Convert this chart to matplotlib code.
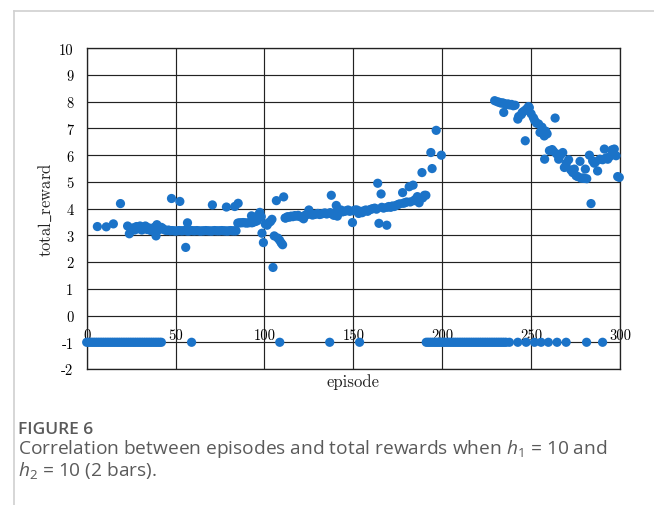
import matplotlib
matplotlib.use("Agg")
import matplotlib.pyplot as plt
from matplotlib.lines import Line2D

plt.rcParams['mathtext.fontset'] = 'custom'
plt.rcParams['mathtext.rm'] = 'Open Sans'
plt.rcParams['mathtext.it'] = 'Open Sans:italic'

# ---------------- data ----------------
pos_episode = [6, 11, 15, 19, 23, 24, 25, 26, 27, 28, 29, 30, 31, 32, 33, 34, 35, 36, 37, 38,
               39, 39.5, 40, 41, 42, 43, 44, 45, 46,
               47, 48, 49, 50, 51, 52, 53, 54, 55, 56, 57, 58, 59, 60, 61, 62, 63, 64, 65, 66,
               67, 68, 69, 70, 71, 72, 73, 74, 75, 76, 77, 78, 79, 80, 81, 82, 83, 84,
               47.7, 52.4, 55.7, 56.7, 70.7, 78.6, 83.3, 85.2,
               85, 86, 87, 88, 89, 90, 91, 92, 93, 94, 95, 96,
               92.7, 93.7, 95, 96.4, 97.4, 98.2,
               98.6, 99.4, 100.5, 101.5, 102.5, 103.4, 104.2, 104.8, 105.5, 106.7, 107.5, 108.5,
               109.4, 110.2, 110.8, 111.6,
               112, 113, 114, 115, 116, 117, 118, 119, 120, 121, 122, 123, 124, 125, 126, 127,
               128, 129, 130, 131, 132, 133, 134, 135, 136, 137, 137.6, 138, 139, 140, 140.4,
               141, 142, 143, 144, 145, 146, 147, 148, 149.5, 150, 151, 152, 153, 154, 155, 156,
               157, 158, 159, 160, 161, 162, 163, 163.7, 164.4, 165.6, 166, 167, 168.8, 169,
               170, 171, 172, 173, 174, 175, 176, 177.7, 178, 179, 180, 181.4, 182, 183.6, 184,
               185, 186, 187, 188.6, 189, 190, 190.8, 193.6, 194.3, 196.6, 199.5,
               229.5, 231, 232, 233, 234, 234.6, 235, 236, 237, 238, 239, 240, 241, 242.5, 243,
               244.5, 245, 246, 246.7, 247.3, 248.5, 249, 250, 251.3, 252, 253, 254.2, 255,
               256.1, 256.8, 257.4, 257.6, 258.2, 259, 260.3, 261.8, 262.5, 263.5, 264.3, 265.5,
               266.5, 267.8, 268.7, 269.8, 271.1, 272.3, 273.4, 274.3, 275.3, 276.2, 277.5,
               278.1, 279.2, 279.9, 280.5, 281.3, 282.8, 283.7, 284.6, 285.5, 286.3, 287.4,
               288.7, 290.2, 291.2, 292.2, 293.1, 294.2, 295.5, 295.8, 296.8, 297.8, 298.7,
               299.6]
pos_reward = [3.33, 3.32, 3.43, 4.19, 3.35, 3.06, 3.22, 3.28, 3.20, 3.33, 3.25, 3.35, 3.20, 3.30,
              3.35, 3.22, 3.28, 3.18, 3.25, 3.30, 2.98, 3.40, 3.30, 3.22, 3.30, 3.25, 3.20, 3.18,
              3.20,
              3.17, 3.18, 3.17, 3.16, 3.17, 3.18, 3.17, 3.17, 3.18, 3.17, 3.16, 3.17, 3.18, 3.17,
              3.17, 3.18, 3.17, 3.16, 3.17, 3.17, 3.18, 3.17, 3.17, 3.16, 3.17, 3.18, 3.17, 3.17,
              3.17, 3.18, 3.17, 3.17, 3.16, 3.17, 3.18, 3.17, 3.17, 3.17,
              4.38, 4.27, 2.55, 3.47, 4.14, 4.06, 4.08, 4.20,
              3.46, 3.47, 3.47, 3.48, 3.47, 3.46, 3.47, 3.48, 3.47, 3.50, 3.52, 3.55,
              3.73, 3.62, 3.58, 3.75, 3.86, 3.70,
              3.08, 2.73, 3.42, 3.38, 3.48, 3.52, 3.60, 1.80, 2.98, 4.30, 2.90, 2.82,
              2.72, 2.65, 4.44, 3.65,
              3.65, 3.70, 3.68, 3.72, 3.70, 3.74, 3.72, 3.75, 3.70, 3.68, 3.62, 3.76, 3.78, 3.95,
              3.80, 3.76, 3.78, 3.80, 3.82, 3.78, 3.80, 3.82, 3.84, 3.80, 3.82, 3.85, 4.50, 3.80,
              3.75, 3.85, 4.12, 3.72, 3.85, 3.95, 3.88, 3.90, 3.92, 3.95, 3.90, 3.48, 3.92, 3.95,
              3.95, 3.82, 3.90, 3.85, 3.92, 3.95, 3.90, 3.95, 3.98, 4.00, 4.02, 3.98, 4.95, 3.45,
              4.55, 4.05, 4.02, 3.38, 4.05, 4.08, 4.05, 4.10, 4.08, 4.12, 4.15, 4.18, 4.60, 4.20,
              4.22, 4.25, 4.82, 4.25, 4.88, 4.30, 4.35, 4.45, 4.22, 5.35, 4.40, 4.50, 4.50, 6.10,
              5.50, 6.93, 6.00,
              8.04, 8.00, 7.98, 7.95, 7.96, 7.60, 7.93, 7.90, 7.92, 7.88, 7.90, 7.85, 7.87, 7.35,
              7.45, 7.52, 7.60, 7.65, 6.54, 7.72, 7.82, 7.78, 7.55, 7.40, 7.30, 7.20, 7.17, 6.85,
              7.05, 6.80, 6.72, 5.85, 6.90, 6.80, 6.17, 6.21, 6.15, 7.39, 6.05, 5.85, 6.00, 6.10,
              5.54, 5.70, 5.83, 5.45, 5.35, 5.48, 5.23, 5.20, 5.77, 5.14, 5.15, 5.13, 5.48, 5.12,
              6.00, 4.19, 5.79, 5.70, 5.75, 5.41, 5.85, 5.83, 6.23, 5.90, 5.85, 5.95, 6.20, 6.05,
              6.23, 5.98, 5.20, 5.17]

fail_episode = list(range(0, 43)) + [59, 108.6, 136.7, 153.5] + list(range(191, 237)) + \
               [237.8, 242.5, 247.2, 251.9, 255.6, 259.7, 264.6, 269.7, 281.2, 290.2]
fail_reward = [-1] * len(fail_episode)

x_ticks = [0, 50, 100, 150, 200, 250, 300]
y_ticks = list(range(-2, 11))
y_tick_labels = [str(v) if v >= 0 else "-" + str(-v) for v in y_ticks]

# ---------------- figure ----------------
W, H = 654, 506
fig = plt.figure(figsize=(W / 100, H / 100), dpi=100)

# page frame lines (top and left)
fig.add_artist(Line2D([14 / W, 1], [1 - 12 / H, 1 - 12 / H], color='#d0d0d0', lw=1.2))
fig.add_artist(Line2D([14 / W, 14 / W], [0, 1 - 12 / H], color='#d0d0d0', lw=1.2))

x0, x1 = 86.7, 620.0
y0, y1 = 49.3, 370.0
ax = fig.add_axes([x0 / W, 1 - y1 / H, (x1 - x0) / W, (y1 - y0) / H])

blue = '#1b73c8'
ax.scatter(pos_episode, pos_reward, s=44, color=blue, edgecolors='none', zorder=3, clip_on=False)
ax.scatter(fail_episode, fail_reward, s=44, color=blue, edgecolors='none', zorder=3, clip_on=False)

ax.set_xlim(0, 300)
ax.set_ylim(-2, 10)
ax.set_xticks(x_ticks)
ax.set_xticklabels([str(v) for v in x_ticks], fontfamily='cmr10', fontsize=10.5)
ax.set_yticks(y_ticks)
ax.set_yticklabels(y_tick_labels, fontfamily='cmr10', fontsize=10.5)
ax.tick_params(axis='both', length=0)
ax.tick_params(axis='y', pad=9.5)
ax.tick_params(axis='x', pad=-29.5)
ax.grid(True, color='#222222', lw=0.85)
ax.set_axisbelow(True)
for sp in ax.spines.values():
    sp.set_color('#222222')
    sp.set_linewidth(0.95)

fig.text(46 / W, 1 - 209.6 / H, r'$\mathrm{total\_reward}$', math_fontfamily='cm',
         rotation=90, ha='center', va='center', fontsize=12, color='#222222')
fig.text(353 / W, 1 - 382.5 / H, 'episode', fontfamily='cmr10', ha='center', va='center',
         fontsize=12, color='#222222')

cap_color = '#5a5a5a'
fig.text(18 / W, 1 - 430 / H, 'FIGURE 6', fontfamily='Open Sans', fontsize=12.5,
         fontweight='semibold', color=cap_color, va='center', ha='left')
fig.text(18 / W, 1 - 449 / H, r'Correlation between episodes and total rewards when $h_1$ = 10 and',
         fontfamily='Open Sans', fontsize=13.8, color=cap_color, va='center', ha='left')
fig.text(18 / W, 1 - 471 / H, r'$h_2$ = 10 (2 bars).',
         fontfamily='Open Sans', fontsize=13.8, color=cap_color, va='center', ha='left')

fig.savefig('out.png', dpi=100)
